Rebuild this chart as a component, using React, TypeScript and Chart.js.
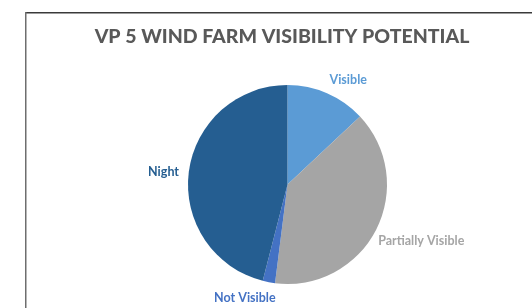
import React, { useEffect, useRef } from "react";
import { Chart, registerables } from "chart.js";

Chart.register(...registerables);

const titleText = "VP 5 WIND FARM VISIBILITY POTENTIAL";
const categories = ["Visible", "Partially Visible", "Not Visible", "Night"];
const values = [13, 39, 2, 46];
const sliceColors = ["#5B9BD5", "#A5A5A5", "#4472C4", "#255E91"];
const labelColors = ["#5B9BD5", "#A5A5A5", "#4472C4", "#255E91"];

const FONT = "Lato, 'Open Sans', sans-serif";

const decorPlugin = {
  id: "decor",
  beforeDraw(chart: any) {
    const ctx = chart.ctx;
    ctx.save();
    ctx.fillStyle = "#ffffff";
    ctx.fillRect(0, 0, chart.width, chart.height);
    // frame
    ctx.strokeStyle = "#3a3a3a";
    ctx.lineWidth = 1.5;
    ctx.beginPath();
    ctx.moveTo(25, 12.75);
    ctx.lineTo(chart.width + 2, 12.75);
    ctx.stroke();
    ctx.strokeStyle = "#6e6e6e";
    ctx.lineWidth = 1.5;
    ctx.beginPath();
    ctx.moveTo(25.75, 12);
    ctx.lineTo(25.75, chart.height + 2);
    ctx.stroke();
    // title
    ctx.fillStyle = "#595959";
    ctx.font = `900 19.5px ${FONT}`;
    ctx.textAlign = "center";
    ctx.textBaseline = "middle";
    ctx.fillText(titleText, 282, 37);
    ctx.restore();
  },
  afterDatasetsDraw(chart: any) {
    const ctx = chart.ctx;
    const meta = chart.getDatasetMeta(0);
    const nudges = [[9, 3], [-4, 3], [-16, -2], [2, 2]];
    ctx.save();
    ctx.font = `bold 12.5px ${FONT}`;
    ctx.textAlign = "center";
    ctx.textBaseline = "middle";
    meta.data.forEach((arc: any, i: number) => {
      const { x, y, startAngle, endAngle, outerRadius } = arc.getProps(
        ["x", "y", "startAngle", "endAngle", "outerRadius"],
        true
      );
      const mid = (startAngle + endAngle) / 2;
      const dx = Math.cos(mid);
      const dy = Math.sin(mid);
      const r = outerRadius + 12;
      const label = categories[i];
      const w = ctx.measureText(label).width;
      const h = 12;
      const cx = x + dx * r + (w / 2) * dx + nudges[i][0];
      const cy = y + dy * r + (h / 2) * dy + nudges[i][1];
      ctx.fillStyle = labelColors[i];
      ctx.fillText(label, cx, cy);
    });
    ctx.restore();
  },
};

export default function App() {
  const ref = useRef<HTMLCanvasElement | null>(null);
  useEffect(() => {
    document.body.style.margin = "0";
    const canvas = ref.current!;
    const chart = new Chart(canvas, {
      type: "pie",
      data: {
        labels: categories,
        datasets: [
          {
            data: values,
            backgroundColor: sliceColors,
            borderColor: "#ffffff",
            borderWidth: 0,
          },
        ],
      },
      options: {
        responsive: false,
        animation: false,
        layout: { padding: { left: 188, right: 145, top: 85, bottom: 24 } },
        plugins: {
          legend: { display: false },
          title: { display: false },
          tooltip: { enabled: false },
        },
      },
      plugins: [decorPlugin],
    });
    return () => chart.destroy();
  }, []);
  return (
    <div style={{ width: 532, height: 308 }}>
      <canvas ref={ref} width={532} height={308} style={{ display: "block" }} />
    </div>
  );
}
